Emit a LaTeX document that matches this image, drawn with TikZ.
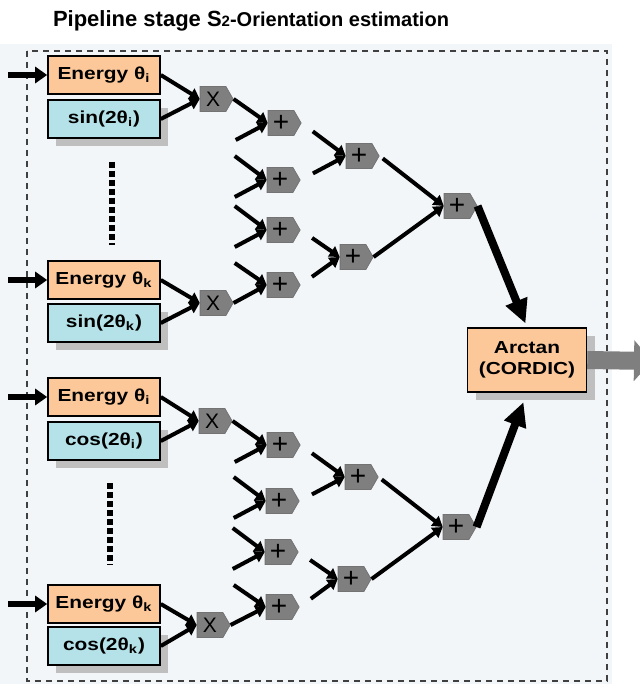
\documentclass[tikz,border=0pt]{standalone}
\usepackage{fontspec}
\setmainfont[FakeStretch=1.2]{Liberation Sans}
\newfontfamily\titlefont{Liberation Sans}
\usetikzlibrary{positioning, arrows.meta, shapes.symbols, shadows}

\definecolor{energycol}{HTML}{FCC89A}
\definecolor{trigcol}{HTML}{B5E2E8}
\definecolor{opcol}{HTML}{7F7F7F}
\definecolor{panelcol}{HTML}{F3F6F9}

\tikzset{
  box/.style={draw, line width=0.8pt, minimum width=56pt, minimum height=19pt,
    inner sep=1pt, font=\bfseries\fontsize{8.7}{10.5}\selectfont},
  energy/.style={box, fill=energycol},
  trig/.style={box, fill=trigcol,
    drop shadow={shadow xshift=4pt, shadow yshift=-4pt, fill=black!25, opacity=1}},
  op/.style={signal, signal to=east, signal pointer angle=120, draw=black!55,
    fill=opcol, minimum width=16.5pt, minimum height=12.5pt, inner sep=0pt},
  mulop/.style={op, font=\titlefont\fontsize{10.5}{11}\selectfont},
  addop/.style={op, font=\titlefont\fontsize{14}{14}\selectfont},
  flow/.style={line width=2pt, -{Triangle[length=5pt,width=6pt]}},
  bigflow/.style={line width=4pt, -{Triangle[length=12pt,width=11pt]}},
  infeed/.style={line width=3pt, -{Triangle[length=6pt,width=8pt]}},
  outflow/.style={line width=9pt, draw=opcol, -{Triangle[length=9pt,width=20pt]}},
  dots/.style={line width=3pt, dash pattern=on 3pt off 1.5pt},
}

\begin{document}
\begin{tikzpicture}[x=0.5pt, y=-0.5pt]
\useasboundingbox (0,0) rectangle (640,684);
\fill[panelcol] (0,44) rectangle (612,684);
\draw[line width=1pt, black!75, dash pattern=on 3pt off 2.5pt] (27,51) rectangle (607,681);

\node (title) at (251,21) {\titlefont\bfseries\fontsize{11}{13}\selectfont Pipeline stage
    S{\fontsize{7.5}{8}\selectfont 2}\fontsize{10}{13}\selectfont -Orientation estimation};

% sine half
\node[energy] (eI1) at (104,75) {Energy θ\textsubscript{i}};
\node[trig] (sI1) at (104,119) {sin(2θ\textsubscript{i})};
\node[energy] (eK1) at (104,280) {Energy θ\textsubscript{k}};
\node[trig] (sK1) at (104,323) {sin(2θ\textsubscript{k})};

\node[mulop] (mI1) at (213,99) {X};
\node[mulop] (mK1) at (213,303) {X};

\node[addop] (a1) at (281,123) {+};
\node[addop] (a2) at (280,180) {+};
\node[addop] (a3) at (280,230) {+};
\node[addop] (a4) at (280,285) {+};
\node[addop] (b1) at (359,156) {+};
\node[addop] (b2) at (353,257) {+};
\node[addop] (c1) at (457,206) {+};

% cosine half
\node[energy] (eI2) at (104,397) {Energy θ\textsubscript{i}};
\node[trig] (cI2) at (104,441) {cos(2θ\textsubscript{i})};
\node[energy] (eK2) at (104,604) {Energy θ\textsubscript{k}};
\node[trig] (cK2) at (104,646) {cos(2θ\textsubscript{k})};

\node[mulop] (mI2) at (212,421) {X};
\node[mulop] (mK2) at (210,625) {X};

\node[addop] (a5) at (280,445) {+};
\node[addop] (a6) at (279,501) {+};
\node[addop] (a7) at (278,552) {+};
\node[addop] (a8) at (279,607) {+};
\node[addop] (b3) at (358,477) {+};
\node[addop] (b4) at (351,579) {+};
\node[addop] (c2) at (456,527) {+};

\node[box, fill=energycol, align=center, minimum width=59.5pt, minimum height=32pt,
    drop shadow={shadow xshift=4pt, shadow yshift=-4pt, fill=black!25, opacity=1}]
    (arctan) at (527,360) {Arctan\\(CORDIC)};

% loose ends
\coordinate (inI1) at (8,75);
\coordinate (inK1) at (8,280);
\coordinate (inI2) at (8,397);
\coordinate (inK2) at (8,604);
\coordinate (out) at (652,361);

\coordinate[below left=8.5pt and 16pt of a1.west] (a1d);
\coordinate[above left=12pt and 16pt of a2.west] (a2u);
\coordinate[below left=8.5pt and 16pt of a2.west] (a2d);
\coordinate[above left=12pt and 16pt of a3.west] (a3u);
\coordinate[below left=8.5pt and 16pt of a3.west] (a3d);
\coordinate[above left=11pt and 16pt of a4.west] (a4u);

\coordinate[below left=8.5pt and 16pt of a5.west] (a5d);
\coordinate[above left=12pt and 16pt of a6.west] (a6u);
\coordinate[below left=8.5pt and 16pt of a6.west] (a6d);
\coordinate[above left=12pt and 16pt of a7.west] (a7u);
\coordinate[below left=8.5pt and 16pt of a7.west] (a7d);
\coordinate[above left=11pt and 16pt of a8.west] (a8u);

% dots between the rows
\draw[dots] (112,162) -- (112,245);
\draw[dots] (110,483) -- (110,565);

\path[infeed]
    (inI1) edge (eI1.west)
    (inK1) edge (eK1.west)
    (inI2) edge (eI2.west)
    (inK2) edge (eK2.west)
    ;

\path[flow]
    (eI1.east) edge (mI1.west)
    (sI1.east) edge (mI1.west)
    (eK1.east) edge (mK1.west)
    (sK1.east) edge (mK1.west)
    (mI1.east) edge (a1.west)
    (a1d) edge (a1.west)
    (a2u) edge (a2.west)
    (a2d) edge (a2.west)
    (a3u) edge (a3.west)
    (a3d) edge (a3.west)
    (a4u) edge (a4.west)
    (mK1.east) edge (a4.west)
    (a1.east) edge[shorten <=7pt] (b1.west)
    (a2.east) edge[shorten <=7pt] (b1.west)
    (a3.east) edge[shorten <=7pt] (b2.west)
    (a4.east) edge[shorten <=7pt] (b2.west)
    (b1.east) edge[shorten <=2pt] (c1.west)
    (b2.east) edge (c1.west)
    ;

\path[flow]
    (eI2.east) edge (mI2.west)
    (cI2.east) edge (mI2.west)
    (eK2.east) edge (mK2.west)
    (cK2.east) edge (mK2.west)
    (mI2.east) edge (a5.west)
    (a5d) edge (a5.west)
    (a6u) edge (a6.west)
    (a6d) edge (a6.west)
    (a7u) edge (a7.west)
    (a7d) edge (a7.west)
    (a8u) edge (a8.west)
    (mK2.east) edge (a8.west)
    (a5.east) edge[shorten <=7pt] (b3.west)
    (a6.east) edge[shorten <=7pt] (b3.west)
    (a7.east) edge[shorten <=7pt] (b4.west)
    (a8.east) edge[shorten <=7pt] (b4.west)
    (b3.east) edge[shorten <=2pt] (c2.west)
    (b4.east) edge (c2.west)
    ;

\draw[bigflow, shorten >=2pt] (c1.east) -- (arctan.north);
\draw[bigflow, shorten >=5pt] (c2.east) -- (arctan.south);
\draw[outflow] (arctan.east) -- (out);
\end{tikzpicture}
\end{document}
